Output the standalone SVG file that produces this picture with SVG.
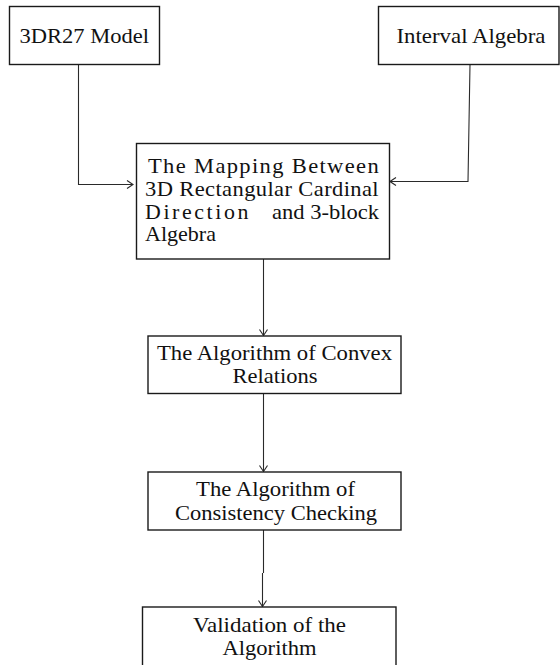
<svg xmlns="http://www.w3.org/2000/svg" width="560" height="665" viewBox="0 0 560 665">
<style>
  .box { fill: #ffffff; stroke: #1a1a1a; stroke-width: 1.4; }
  .lbl { font-family: "Liberation Serif", "Times New Roman", serif; font-size: 20.2px; fill: #111111; }
  .conn { fill: none; stroke: #2a2a2a; stroke-width: 1.1; }
</style>
<defs>
  <marker id="arrow" markerUnits="userSpaceOnUse" viewBox="0 0 8 10" markerWidth="8" markerHeight="10" refX="7.5" refY="5" orient="auto">
    <path d="M1.5,1 L7.5,5 L1.5,9" fill="none" stroke="#2a2a2a" stroke-width="1.1"/>
  </marker>
</defs>
<rect width="560" height="665" fill="#ffffff"/>

<g id="connectors">
  <path class="conn" d="M78.5,64.5 V184.5 H133" marker-end="url(#arrow)"/>
  <path class="conn" d="M470,64.5 L468,181.5 H390" marker-end="url(#arrow)"/>
  <path class="conn" d="M263.5,259 V335.5" marker-end="url(#arrow)"/>
  <path class="conn" d="M263.5,393.5 V471.5" marker-end="url(#arrow)"/>
  <path class="conn" d="M263.5,530 V573 M262.5,573 V606.5" marker-end="url(#arrow)"/>
</g>

<g id="node-3dr27">
  <rect class="box" x="9.5" y="6.5" width="150" height="58"/>
  <text class="lbl" x="19.5" y="42.5" textLength="129.5" lengthAdjust="spacingAndGlyphs">3DR27 Model</text>
</g>

<g id="node-interval">
  <rect class="box" x="378.5" y="6.5" width="180.5" height="58"/>
  <text class="lbl" x="396.5" y="42.5" textLength="149" lengthAdjust="spacingAndGlyphs">Interval Algebra</text>
</g>

<g id="node-mapping">
  <rect class="box" x="136.5" y="143.5" width="253" height="115.5"/>
  <text class="lbl" x="148" y="173" letter-spacing="1.2" textLength="232" lengthAdjust="spacingAndGlyphs">The Mapping Between</text>
  <text class="lbl" x="145" y="196" letter-spacing="0.35" textLength="234" lengthAdjust="spacingAndGlyphs">3D Rectangular Cardinal</text>
  <text class="lbl" x="145" y="218.5" letter-spacing="2.4" textLength="106" lengthAdjust="spacingAndGlyphs">Direction</text>
  <text class="lbl" x="272" y="218.5" textLength="107" lengthAdjust="spacingAndGlyphs">and 3-block</text>
  <text class="lbl" x="145" y="241" textLength="71" lengthAdjust="spacingAndGlyphs">Algebra</text>
</g>

<g id="node-convex">
  <rect class="box" x="148" y="336" width="253" height="57.5"/>
  <text class="lbl" x="157" y="360" textLength="235" lengthAdjust="spacingAndGlyphs">The Algorithm of Convex</text>
  <text class="lbl" x="232.5" y="382.5" textLength="85" lengthAdjust="spacingAndGlyphs">Relations</text>
</g>

<g id="node-consistency">
  <rect class="box" x="148" y="472" width="253" height="58"/>
  <text class="lbl" x="196" y="496" textLength="159" lengthAdjust="spacingAndGlyphs">The Algorithm of</text>
  <text class="lbl" x="175" y="519.5" textLength="202" lengthAdjust="spacingAndGlyphs">Consistency Checking</text>
</g>

<g id="node-validation">
  <rect class="box" x="142.5" y="607" width="253.5" height="80"/>
  <text class="lbl" x="193" y="632" textLength="153" lengthAdjust="spacingAndGlyphs">Validation of the</text>
  <text class="lbl" x="222.5" y="654.5" textLength="94" lengthAdjust="spacingAndGlyphs">Algorithm</text>
</g>
</svg>
